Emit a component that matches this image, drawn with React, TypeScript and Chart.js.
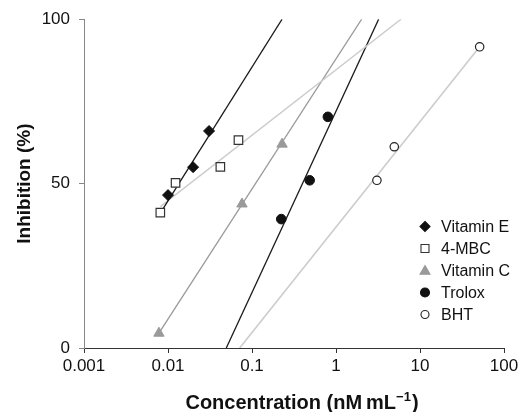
import React, { useEffect, useRef } from 'react';
import { Chart, registerables } from 'chart.js';

Chart.register(...registerables);

const FONT = '"Liberation Sans", Arial, Helvetica, sans-serif';

const seriesNames = ['Vitamin E', '4-MBC', 'Vitamin C', 'Trolox', 'BHT'];

const vitaminEX = [0.01, 0.0199, 0.0308];
const vitaminEY = [46.5, 55, 66];
const mbcX = [0.0081, 0.0123, 0.042, 0.069];
const mbcY = [41.2, 50.2, 55.1, 63.2];
const vitaminCX = [0.0078, 0.076, 0.228];
const vitaminCY = [4.5, 43.8, 62];
const troloxX = [0.223, 0.486, 0.8];
const troloxY = [39.2, 51, 70.3];
const bhtX = [3.07, 4.94, 51.3];
const bhtY = [51, 61.2, 91.6];

// trend lines (end points)
const vitaminETrendX = [0.0081, 0.228];
const vitaminETrendY = [41, 100];
const mbcTrendX = [0.0081, 5.94];
const mbcTrendY = [43, 100];
const vitaminCTrendX = [0.0078, 2.02];
const vitaminCTrendY = [4.5, 100];
const troloxTrendX = [0.0494, 3.22];
const troloxTrendY = [0, 100];
const bhtTrendX = [0.0713, 51.3];
const bhtTrendY = [0, 91.6];

const xTicks = [0.001, 0.01, 0.1, 1, 10, 100];
const yTicks = [0, 50, 100];

const zip = (xs: number[], ys: number[]) => xs.map((x, i) => ({ x, y: ys[i] }));

type Marker = { style: string; fill: string; stroke: string; r: number };
const legendMarkers: Marker[] = [
  { style: 'diamond', fill: '#111', stroke: '#111', r: 5 },
  { style: 'square', fill: '#fff', stroke: '#333', r: 4 },
  { style: 'triangle', fill: '#9a9a9a', stroke: '#9a9a9a', r: 5 },
  { style: 'circle', fill: '#111', stroke: '#111', r: 4.5 },
  { style: 'circle', fill: '#fff', stroke: '#222', r: 4 },
];

function drawMarker(ctx: CanvasRenderingContext2D, m: Marker, x: number, y: number) {
  ctx.save();
  ctx.fillStyle = m.fill;
  ctx.strokeStyle = m.stroke;
  ctx.lineWidth = 1.1;
  ctx.beginPath();
  if (m.style === 'diamond') {
    ctx.moveTo(x, y - m.r);
    ctx.lineTo(x + m.r, y);
    ctx.lineTo(x, y + m.r);
    ctx.lineTo(x - m.r, y);
    ctx.closePath();
  } else if (m.style === 'square') {
    ctx.rect(x - m.r, y - m.r, m.r * 2, m.r * 2);
  } else if (m.style === 'triangle') {
    ctx.moveTo(x, y - m.r);
    ctx.lineTo(x + m.r, y + m.r * 0.75);
    ctx.lineTo(x - m.r, y + m.r * 0.75);
    ctx.closePath();
  } else {
    ctx.arc(x, y, m.r, 0, Math.PI * 2);
  }
  ctx.fill();
  ctx.stroke();
  ctx.restore();
}

const legendPlugin = {
  id: 'customLegend',
  afterDatasetsDraw(chart: any) {
    const ctx: CanvasRenderingContext2D = chart.ctx;
    const x0 = 425;
    const y0 = 226.5;
    const dy = 22;
    ctx.save();
    ctx.font = `16px ${FONT}`;
    ctx.fillStyle = '#111';
    ctx.textBaseline = 'middle';
    ctx.textAlign = 'left';
    seriesNames.forEach((name, i) => {
      const y = y0 + i * dy;
      drawMarker(ctx, legendMarkers[i], x0, y);
      ctx.fillText(name, 441, y + 1);
    });
    ctx.restore();
  },
};

const xTitlePlugin = {
  id: 'xTitle',
  afterDraw(chart: any) {
    const ctx: CanvasRenderingContext2D = chart.ctx;
    const main = 'Concentration (nM\u2009mL';
    const sup = '\u22121';
    const tail = ')';
    ctx.save();
    ctx.fillStyle = '#111';
    ctx.textBaseline = 'alphabetic';
    ctx.textAlign = 'left';
    const bigFont = `bold 20px ${FONT}`;
    const supFont = `bold 13px ${FONT}`;
    ctx.font = bigFont;
    const w1 = ctx.measureText(main).width;
    const w3 = ctx.measureText(tail).width;
    ctx.font = supFont;
    const w2 = ctx.measureText(sup).width;
    const total = w1 + w2 + w3 + 1;
    const cx = 302;
    const baseline = 409;
    let x = cx - total / 2;
    ctx.font = bigFont;
    ctx.fillText(main, x, baseline);
    x += w1;
    ctx.font = supFont;
    ctx.fillText(sup, x, baseline - 8);
    x += w2 + 1;
    ctx.font = bigFont;
    ctx.fillText(tail, x, baseline);
    ctx.restore();
  },
};

export default function App() {
  const ref = useRef<HTMLCanvasElement | null>(null);

  useEffect(() => {
    document.body.style.margin = '0';
    if (!ref.current) return;
    Chart.defaults.font.family = FONT;
    const pts = (data: any, m: any) => ({
      data,
      showLine: false,
      order: 0,
      ...m,
    });
    const trend = (data: any, color: string, width: number) => ({
      data,
      showLine: true,
      pointRadius: 0,
      borderColor: color,
      borderWidth: width,
      backgroundColor: color,
      order: 1,
    });
    const chart = new Chart(ref.current, {
      type: 'scatter',
      data: {
        datasets: [
          pts(zip(vitaminEX, vitaminEY), {
            label: seriesNames[0], pointStyle: 'rectRot', pointRadius: 5.5,
            backgroundColor: '#111', borderColor: '#111', borderWidth: 1,
          }),
          pts(zip(mbcX, mbcY), {
            label: seriesNames[1], pointStyle: 'rect', pointRadius: 6,
            backgroundColor: '#fff', borderColor: '#333', borderWidth: 1.2,
          }),
          pts(zip(vitaminCX, vitaminCY), {
            label: seriesNames[2], pointStyle: 'triangle', pointRadius: 6,
            backgroundColor: '#9a9a9a', borderColor: '#9a9a9a', borderWidth: 1,
          }),
          pts(zip(troloxX, troloxY), {
            label: seriesNames[3], pointStyle: 'circle', pointRadius: 4.8,
            backgroundColor: '#111', borderColor: '#111', borderWidth: 1,
          }),
          pts(zip(bhtX, bhtY), {
            label: seriesNames[4], pointStyle: 'circle', pointRadius: 4.2,
            backgroundColor: '#fff', borderColor: '#222', borderWidth: 1.2,
          }),
          trend(zip(vitaminETrendX, vitaminETrendY), '#1a1a1a', 1.3),
          trend(zip(mbcTrendX, mbcTrendY), '#cccccc', 1.4),
          trend(zip(vitaminCTrendX, vitaminCTrendY), '#9a9a9a', 1.3),
          trend(zip(troloxTrendX, troloxTrendY), '#1a1a1a', 1.3),
          trend(zip(bhtTrendX, bhtTrendY), '#cccccc', 1.6),
        ],
      },
      options: {
        responsive: false,
        animation: false,
        layout: { padding: { top: 19, right: 21, left: 0, bottom: 0 } },
        plugins: { legend: { display: false }, tooltip: { enabled: false } },
        scales: {
          x: {
            type: 'logarithmic',
            min: 0.001,
            max: 100,
            afterBuildTicks: (s: any) => { s.ticks = xTicks.map((v) => ({ value: v })); },
            afterFit: (s: any) => { s.height = 64; },
            ticks: {
              callback: (v: any) => String(v),
              font: { size: 17 },
              color: '#111',
              maxRotation: 0,
              padding: 3,
              autoSkip: false,
            },
            grid: { drawOnChartArea: false, drawTicks: true, tickLength: 5, color: '#333', lineWidth: 1 },
            border: { display: true, color: '#333', width: 1 },
            title: { display: false },
          },
          y: {
            type: 'linear',
            min: 0,
            max: 100,
            afterBuildTicks: (s: any) => { s.ticks = yTicks.map((v) => ({ value: v })); },
            afterFit: (s: any) => { s.width = 84; },
            ticks: { font: { size: 17 }, color: '#111', padding: 9 },
            grid: { drawOnChartArea: false, drawTicks: true, tickLength: 5, color: '#888', lineWidth: 1 },
            border: { display: true, color: '#888', width: 1 },
            title: {
              display: true,
              text: 'Inhibition (%)',
              font: { size: 19, weight: 'bold' },
              color: '#111',
              padding: { top: 13, bottom: 0 },
            },
          },
        },
      },
      plugins: [legendPlugin, xTitlePlugin],
    } as any);
    return () => chart.destroy();
  }, []);

  return (
    <div style={{ width: 525, height: 412 }}>
      <canvas ref={ref} width={525} height={412} style={{ display: 'block' }} />
    </div>
  );
}
